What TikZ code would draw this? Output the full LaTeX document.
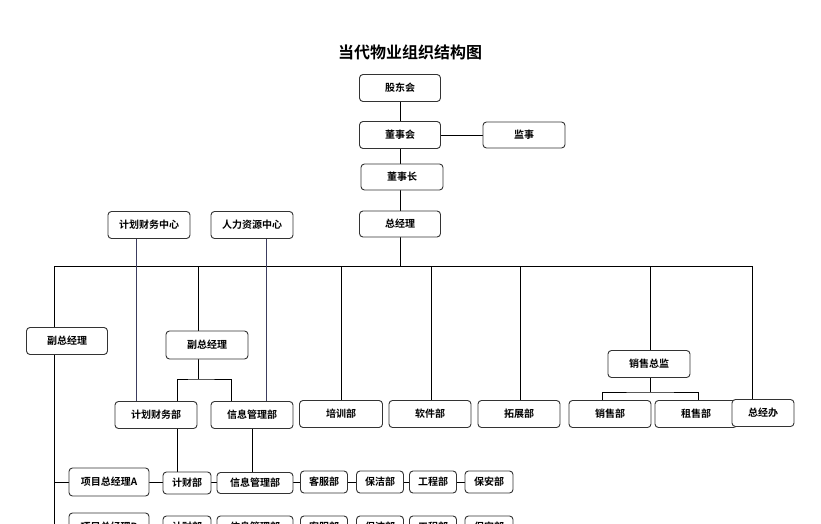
\documentclass[tikz,border=0pt]{standalone}
\usepackage{fontspec}
\setmainfont{Noto Sans CJK SC}
\newfontfamily\cjkb{Noto Sans CJK SC Bold}
\definecolor{slate}{RGB}{60,60,95}
\begin{document}
\begin{tikzpicture}[x=1pt,y=-1pt,
  bx/.style={draw=black!80,line width=0.9pt,rounded corners=3.5pt,fill=white,inner sep=0pt,font=\cjkb\fontsize{10}{12}\selectfont},
  ln/.style={draw=black,line width=0.8pt},
  bl/.style={draw=slate,line width=0.8pt}]
\useasboundingbox (0,0) rectangle (821,524);
\fill[white] (0,0) rectangle (821,524);
\node[font=\cjkb\fontsize{16}{18}\selectfont] (title) at (410,52) {当代物业组织结构图};
\newcommand\bxat[5]{\node[bx,minimum width=#3pt,minimum height=#4pt] (#1) at (#2) {#5};}
% connectors first
\coordinate (hl) at (54,266); \coordinate (hr) at (752,266);
\draw[ln] (hl) -- (hr);
\draw[ln] (hl) -- (54,524);
\draw[ln] (400,88) -- (400,224);
\draw[ln] (400,135) -- (524,135);
\draw[ln] (400,224) -- (400,266);
\draw[ln] (198,266) -- (198,345);
\draw[ln] (198,345) -- (198,379) coordinate (bm);
\draw[ln] (177,415) |- (bm) -| (231,415);
\foreach \x in {341,431,520} \draw[ln] (\x,266) -- (\x,414);
\draw[ln] (650,266) -- (650,364);
\draw[ln] (602,414) |- (650,392) -| (698,414);
\draw[ln] (650,364) -- (650,392);
\draw[ln] (752,266) -- (752,413);
\draw[bl] (136,225) -- (136,415);
\draw[bl] (266,225) -- (266,415);
\draw[ln] (177,415) -- (177,483);
\draw[ln] (252,415) -- (252,483);
\draw[ln] (54,482) -- (489,482);
\draw[ln] (54,527) -- (489,527);
% boxes
\bxat{gdh}{400,88}{81}{27}{股东会}
\bxat{dsh}{400,135}{81}{27}{董事会}
\bxat{js}{524,135}{82}{26}{监事}
\bxat{dsz}{402,177}{82}{26}{董事长}
\bxat{zjl}{400,224}{81}{26}{总经理}
\bxat{jhzx}{149,225}{82}{27}{计划财务中心}
\bxat{rlzx}{252,225}{82}{27}{人力资源中心}
\bxat{fz1}{67,341}{81}{27}{副总经理}
\bxat{fz2}{207,345}{82}{28}{副总经理}
\bxat{jhb}{156,415}{82}{27}{计划财务部}
\bxat{xxb}{252,415}{82}{27}{信息管理部}
\bxat{pxb}{341,414}{83}{27}{培训部}
\bxat{rjb}{430,414}{82}{27}{软件部}
\bxat{tzb}{519,414}{82}{27}{拓展部}
\bxat{xszj}{649,364}{82}{27}{销售总监}
\bxat{xsb}{610,414}{82}{27}{销售部}
\bxat{zsb}{696,414}{82}{27}{租售部}
\bxat{zjb}{763,413}{62}{27}{总经办}
\bxat{xma}{109,482}{80}{28}{项目总经理A}
\bxat{jca}{187,483}{48}{22}{计财部}
\bxat{xxa}{255,483}{76}{21}{信息管理部}
\bxat{kfa}{324,482}{47}{22}{客服部}
\bxat{bja}{380,482}{47}{22}{保洁部}
\bxat{gca}{433,482}{47}{22}{工程部}
\bxat{baa}{489,482}{48}{22}{保安部}
\bxat{xmb}{109,527}{80}{28}{项目总经理B}
\bxat{jcb}{187,527}{48}{22}{计财部}
\bxat{xxbb}{255,527}{76}{22}{信息管理部}
\bxat{kfb}{324,527}{47}{22}{客服部}
\bxat{bjb}{380,527}{47}{22}{保洁部}
\bxat{gcb}{433,527}{47}{22}{工程部}
\bxat{bab}{489,527}{48}{22}{保安部}
\end{tikzpicture}
\end{document}
